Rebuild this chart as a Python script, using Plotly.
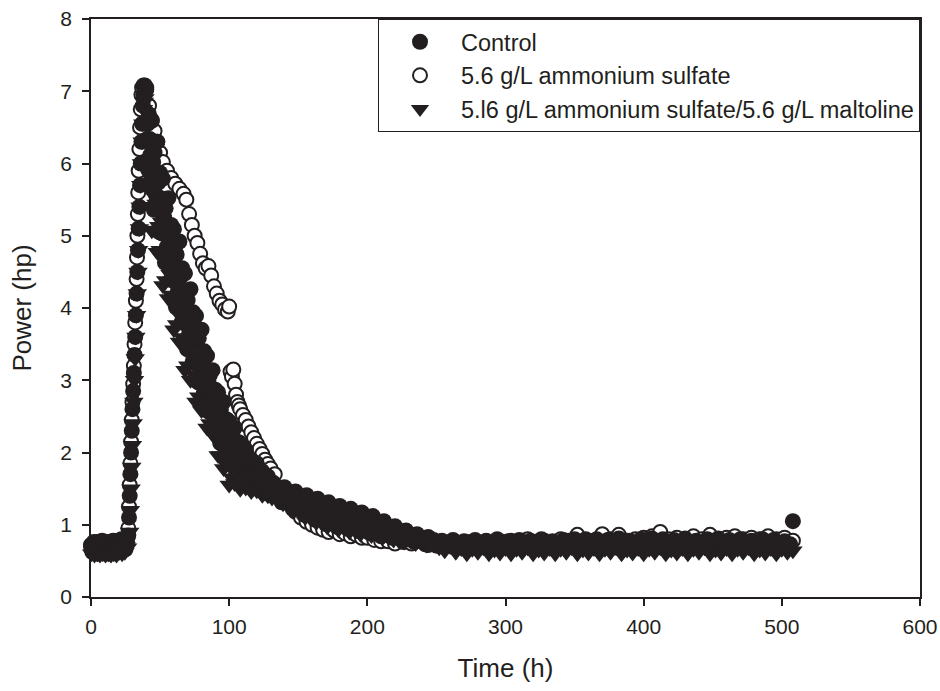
import plotly.graph_objects as go

# ---------------- data ----------------
series_names = ["Control",
                "5.6 g/L ammonium sulfate",
                "5.l6 g/L ammonium sulfate/5.6 g/L maltoline"]

# ---- Control (filled circles) ----
t_ctrl = [0, 1, 2, 3, 4, 5, 6, 7, 8, 9, 10, 11, 12, 13, 14, 15, 16, 17, 18, 19, 20, 21, 22, 23, 24, 25, 26,
          27, 27.5, 28, 28.5, 29, 29.5, 30, 30.5, 31, 31.5, 32, 32.5, 33, 33.5, 34, 34.5, 35, 35.5, 36, 36.5,
          37, 37.5, 38, 38.5, 39,
          40, 41, 42, 43, 44, 45, 46, 47, 48, 49,
          50, 51, 52, 53, 54, 55, 56, 57, 58, 59,
          60, 61, 62, 63, 64, 65, 66, 67, 68, 69,
          70, 71, 72, 73, 74, 75, 76, 77, 78, 79,
          80, 81, 82, 83, 84, 85, 86, 87, 88, 89,
          90, 91, 92, 93, 94, 95, 96, 97, 98, 99,
          100, 101, 102, 103, 104, 105, 106, 107, 108, 109,
          110, 111, 112, 113, 114, 115, 116, 117, 118, 119,
          120, 121, 122, 123, 124, 125, 126, 127, 128, 129,
          130,
          132, 134, 136, 138, 140, 142, 144, 146, 148, 150,
          152, 154, 156, 158, 160, 162, 164, 166, 168, 170,
          172, 174, 176, 178, 180, 182, 184, 186, 188, 190,
          192, 194, 196, 198, 200, 202, 204, 206, 208, 210,
          212, 214, 216, 218, 220, 222, 224, 226, 228, 230,
          232, 234, 236, 238, 240, 242, 244, 246, 248, 250,
          254, 258, 262, 266, 270, 274, 278, 282, 286, 290,
          294, 298, 302, 306, 310, 314, 318, 322, 326, 330,
          334, 338, 342, 346, 350, 354, 358, 362, 366, 370,
          374, 378, 382, 386, 390, 394, 398, 402, 406, 410,
          414, 418, 422, 426, 430, 434, 438, 442, 446, 450,
          454, 458, 462, 466, 470, 474, 478, 482, 486, 490,
          494, 498, 502, 506, 508,
          40.5, 41.5, 42.5, 43.5, 44.5, 45.5, 46.5, 47.5, 48.5, 49.5,
          50.5, 51.5, 52.5, 53.5, 54.5, 55.5, 56.5, 57.5, 58.5, 59.5,
          60.5, 61.5, 62.5, 63.5, 64.5, 65.5, 66.5, 67.5, 68.5, 69.5,
          70.5, 71.5, 72.5, 73.5, 74.5, 75.5, 76.5, 77.5, 78.5, 79.5,
          80.5, 81.5, 82.5, 83.5, 84.5, 85.5, 86.5, 87.5, 88.5, 89.5,
          90.5, 91.5, 92.5, 93.5, 94.5, 95.5, 96.5, 97.5, 98.5, 99.5]
p_ctrl = [0.7, 0.62, 0.76, 0.66, 0.72, 0.6, 0.74, 0.64, 0.78, 0.62, 0.7, 0.66, 0.76, 0.6, 0.72, 0.64,
          0.78, 0.62, 0.74, 0.66, 0.78, 0.64, 0.8, 0.68, 0.76, 0.66, 0.8,
          0.85, 1.1, 1.4, 1.7, 2.0, 2.3, 2.6, 2.85, 3.1, 3.35, 3.6, 3.9, 4.2, 4.5, 4.8, 5.1, 5.4, 5.7, 6.0, 6.3,
          6.55, 6.8, 6.95, 7.05, 7.08,
          7.05, 6.55, 6.68, 6.12, 6.59, 6.02, 6.15, 5.57, 6.30, 5.74,
          5.87, 5.32, 5.79, 5.25, 5.38, 4.85, 5.52, 5.02, 5.15, 4.65,
          5.09, 4.60, 4.74, 4.24, 4.92, 4.43, 4.55, 4.06, 4.48, 3.99,
          4.11, 3.64, 4.26, 3.81, 3.94, 3.50, 3.89, 3.47, 3.58, 3.16,
          3.70, 3.30, 3.40, 3.02, 3.34, 2.98, 3.07, 2.71, 3.14, 2.81,
          2.87, 2.56, 2.83, 2.51, 2.59, 2.25, 2.70, 2.38, 2.46, 2.15,
          2.43, 2.14, 2.23, 1.95, 2.34, 2.08, 2.15, 1.91, 2.13, 1.91,
          1.97, 1.77, 2.04, 1.86, 1.91, 1.74, 1.90, 1.75, 1.80, 1.65,
          1.85, 1.72, 1.76, 1.63, 1.74, 1.63, 1.65, 1.54, 1.67, 1.57,
          1.58,
          1.58, 1.43, 1.49, 1.31, 1.52, 1.35, 1.42, 1.22, 1.46, 1.26,
          1.36, 1.14, 1.41, 1.20, 1.31, 1.07, 1.36, 1.14, 1.25, 1.01,
          1.31, 1.09, 1.20, 0.97, 1.26, 1.05, 1.16, 0.94, 1.22, 1.02,
          1.13, 0.91, 1.17, 0.98, 1.08, 0.88, 1.12, 0.94, 1.03, 0.84,
          1.05, 0.90, 0.96, 0.82, 0.98, 0.85, 0.91, 0.78, 0.92, 0.81,
          0.86, 0.76, 0.87, 0.78, 0.81, 0.73, 0.83, 0.76, 0.79, 0.71,
          0.78, 0.73, 0.79, 0.72, 0.77, 0.74, 0.79, 0.71, 0.78, 0.73,
          0.8, 0.72, 0.77, 0.71, 0.79, 0.73, 0.78, 0.72, 0.8, 0.74,
          0.77, 0.71, 0.79, 0.73, 0.8, 0.72, 0.78, 0.74, 0.8, 0.72,
          0.79, 0.73, 0.81, 0.72, 0.78, 0.74, 0.8, 0.72, 0.81, 0.74,
          0.8, 0.72, 0.79, 0.73, 0.81, 0.72, 0.78, 0.74, 0.8, 0.72,
          0.81, 0.73, 0.79, 0.72, 0.8, 0.74, 0.78, 0.72, 0.8, 0.73,
          0.79, 0.72, 0.77, 0.73, 1.05,
          6.33, 5.91, 6.34, 5.83, 6.29, 5.36, 5.84, 5.49, 5.48, 5.05,
          5.52, 5.03, 5.50, 4.63, 5.09, 4.78, 4.77, 4.39, 4.84, 4.38,
          4.83, 4.01, 4.46, 4.17, 4.17, 3.80, 4.24, 3.79, 4.22, 3.43,
          3.84, 3.57, 3.58, 3.25, 3.66, 3.27, 3.66, 2.97, 3.34, 3.10,
          3.10, 2.81, 3.16, 2.82, 3.15, 2.56, 2.87, 2.67, 2.66, 2.42,
          2.69, 2.40, 2.67, 2.13, 2.41, 2.20, 2.21, 1.96, 2.26, 1.97]

# ---- 5.6 g/L ammonium sulfate (open circles) ----
t_as = [0, 2, 4, 6, 8, 10, 12, 14, 16, 18, 20, 22, 24, 26,
        27, 27.5, 28, 28.5, 29, 29.5, 30, 30.5, 31, 31.5, 32, 32.5, 33, 33.3, 33.6, 33.9, 34.2, 34.5,
        35, 35.5, 36, 36.5, 37, 38,
        40, 42, 44, 46, 48, 50, 52, 55, 58, 61, 64, 67,
        69, 71, 73, 75, 77, 79, 81, 83, 85, 87, 89, 91, 93, 95, 97, 99, 100,
        101, 102, 103, 104, 105, 106, 107, 108, 110, 112, 114, 116, 118, 120, 122, 124, 126, 128, 130, 133,
        136, 140, 144, 148, 152, 156, 160, 164, 168, 172, 176, 180, 184, 188, 192, 196, 200, 205, 210, 215, 220,
        226, 232, 238, 244, 250, 256, 262, 268, 274, 280,
        286, 292, 298, 304, 310, 316, 322, 328, 334, 340,
        346, 352, 358, 364, 370, 376, 382, 388, 394, 400,
        406, 412, 418, 424, 430, 436, 442, 448, 454, 460,
        466, 472, 478, 484, 490, 496, 502, 508]
p_as = [0.72, 0.66, 0.76, 0.7, 0.64, 0.74, 0.68, 0.72, 0.76, 0.66, 0.74, 0.78, 0.7, 0.76,
        0.95, 1.25, 1.55, 1.85, 2.15, 2.45, 2.7, 2.95, 3.2, 3.5, 3.8, 4.1, 4.4, 4.7, 5.0, 5.3, 5.6, 5.9,
        6.2, 6.5, 6.75, 6.95, 7.05, 7.08,
        7.02, 6.8, 6.6, 6.45, 6.3, 6.15, 6.02, 5.9, 5.8, 5.72, 5.65, 5.58,
        5.5, 5.3, 5.15, 5.0, 4.9, 4.75, 4.62, 4.55, 4.58, 4.45, 4.3, 4.2, 4.1, 4.05, 3.98, 3.95, 4.02,
        3.12, 3.05, 3.15, 2.95, 2.8, 2.7, 2.65, 2.6, 2.52, 2.45, 2.36, 2.28, 2.2, 2.12, 2.05, 1.98, 1.9, 1.84, 1.78, 1.7,
        1.5, 1.38, 1.28, 1.18, 1.1, 1.04, 1.0, 0.96, 0.93, 0.9, 0.92, 0.87, 0.88, 0.84, 0.86, 0.82, 0.82, 0.79, 0.77, 0.77, 0.74,
        0.76, 0.74, 0.78, 0.72, 0.76, 0.74, 0.77, 0.73, 0.76, 0.74,
        0.77, 0.74, 0.76, 0.78, 0.74, 0.8, 0.76, 0.78, 0.75, 0.8,
        0.78, 0.86, 0.8, 0.78, 0.87, 0.8, 0.86, 0.78, 0.8, 0.82,
        0.84, 0.9, 0.8, 0.82, 0.78, 0.84, 0.8, 0.86, 0.8, 0.82,
        0.84, 0.8, 0.82, 0.8, 0.84, 0.8, 0.82, 0.78]

# ---- 5.l6 g/L ammonium sulfate / 5.6 g/L maltoline (down triangles) ----
t_malt = [0.5, 1.5, 2.5, 3.5, 4.5, 5.5, 6.5, 7.5, 8.5, 9.5, 10.5, 11.5, 12.5, 13.5, 14.5, 15.5,
          16.5, 17.5, 18.5, 19.5, 20.5, 21.5, 22.5, 23.5, 24.5, 25.5, 26.5,
          28, 28.5, 29, 29.5, 30, 30.5, 31, 31.5, 32, 32.5, 33, 33.5, 34, 34.5, 35, 35.5, 36, 36.5,
          37, 37.5, 38, 38.5, 39,
          40, 41, 42, 43, 44, 45, 46, 47, 48, 49,
          50, 51, 52, 53, 54, 55, 56, 57, 58, 59,
          60, 61, 62, 63, 64, 65, 66, 67, 68, 69,
          70, 71, 72, 73, 74, 75, 76, 77, 78, 79,
          80, 81, 82, 83, 84, 85, 86, 87, 88, 89,
          90, 91, 92, 93, 94, 95, 96, 97, 98, 99,
          100, 101, 102, 103, 104, 105, 106, 107, 108, 109,
          110, 111, 112, 113, 114, 115, 116, 117, 118, 119,
          120, 121, 122, 123, 124, 125, 126, 127, 128, 129,
          130,
          131, 133, 135, 137, 139, 141, 143, 145, 147, 149,
          151, 153, 155, 157, 159, 161, 163, 165, 167, 169,
          171, 173, 175, 177, 179, 181, 183, 185, 187, 189,
          191, 193, 195, 197, 199, 201, 203, 205, 207, 209,
          211, 213, 215, 217, 219, 221, 223, 225, 227, 229,
          231, 233, 235, 237, 239, 241, 243, 245, 247, 249,
          252, 256, 260, 264, 268, 272, 276, 280, 284, 288,
          292, 296, 300, 304, 308, 312, 316, 320, 324, 328,
          332, 336, 340, 344, 348, 352, 356, 360, 364, 368,
          372, 376, 380, 384, 388, 392, 396, 400, 404, 408,
          412, 416, 420, 424, 428, 432, 436, 440, 444, 448,
          452, 456, 460, 464, 468, 472, 476, 480, 484, 488,
          492, 496, 500, 504, 508]
p_malt = [0.6, 0.68, 0.58, 0.64, 0.6, 0.7, 0.58, 0.66, 0.6, 0.68, 0.58, 0.64, 0.6, 0.7, 0.58, 0.66,
          0.6, 0.68, 0.58, 0.64, 0.62, 0.7, 0.6, 0.66, 0.62, 0.7, 0.68,
          0.9, 1.2, 1.5, 1.8, 2.1, 2.4, 2.7, 3.0, 3.3, 3.6, 3.9, 4.2, 4.5, 4.8, 5.1, 5.4, 5.7, 6.0,
          6.3, 6.55, 6.75, 6.85, 6.9,
          5.70, 5.99, 5.64, 5.99, 5.07, 5.41, 5.08, 5.44, 4.77, 5.13,
          4.80, 5.19, 4.31, 4.68, 4.38, 4.73, 4.13, 4.47, 4.18, 4.53,
          3.70, 4.05, 3.77, 4.12, 3.53, 3.88, 3.59, 3.94, 3.14, 3.47,
          3.20, 3.53, 3.00, 3.32, 3.08, 3.40, 2.70, 3.00, 2.77, 3.06,
          2.58, 2.87, 2.66, 2.94, 2.34, 2.59, 2.40, 2.64, 2.25, 2.47,
          2.29, 2.49, 1.96, 2.16, 1.96, 2.17, 1.78, 2.01, 1.83, 2.07,
          1.55, 1.80, 1.65, 1.88, 1.57, 1.78, 1.66, 1.86, 1.49, 1.66,
          1.57, 1.73, 1.51, 1.66, 1.57, 1.71, 1.46, 1.58, 1.51, 1.62,
          1.47, 1.57, 1.50, 1.61, 1.41, 1.50, 1.44, 1.51, 1.40, 1.47,
          1.41,
          1.37, 1.48, 1.39, 1.51, 1.29, 1.40, 1.30, 1.44, 1.19, 1.32,
          1.21, 1.38, 1.10, 1.26, 1.14, 1.33, 1.03, 1.20, 1.08, 1.27,
          0.97, 1.15, 1.03, 1.22, 0.93, 1.10, 0.99, 1.18, 0.90, 1.07,
          0.97, 1.15, 0.87, 1.03, 0.93, 1.10, 0.85, 0.99, 0.90, 1.04,
          0.82, 0.94, 0.86, 0.98, 0.79, 0.89, 0.82, 0.92, 0.76, 0.85,
          0.79, 0.87, 0.74, 0.81, 0.76, 0.82, 0.72, 0.77, 0.74, 0.80,
          0.68, 0.64, 0.7, 0.62, 0.67, 0.6, 0.66, 0.62, 0.68, 0.6,
          0.65, 0.61, 0.67, 0.6, 0.66, 0.62, 0.68, 0.6, 0.65, 0.61,
          0.67, 0.6, 0.66, 0.62, 0.68, 0.6, 0.65, 0.61, 0.67, 0.6,
          0.66, 0.62, 0.68, 0.6, 0.65, 0.61, 0.67, 0.6, 0.66, 0.62,
          0.68, 0.6, 0.65, 0.61, 0.67, 0.6, 0.66, 0.62, 0.68, 0.6,
          0.65, 0.61, 0.67, 0.6, 0.66, 0.62, 0.68, 0.6, 0.65, 0.61,
          0.67, 0.6, 0.66, 0.62, 0.64]

x_ticks = [0, 100, 200, 300, 400, 500, 600]
y_ticks = [0, 1, 2, 3, 4, 5, 6, 7, 8]

for a, b, n in [(t_ctrl, p_ctrl, "ctrl"), (t_as, p_as, "as"), (t_malt, p_malt, "malt")]:
    if len(a) != len(b):
        raise ValueError(f"{n}: {len(a)} times vs {len(b)} values")

# ---------------- figure ----------------
BLACK = "#231f20"
FONT = "Liberation Sans, Arial, Helvetica, sans-serif"

fig = go.Figure()
# open circles drawn first (underneath); legend order fixed with legendrank
fig.add_trace(go.Scatter(
    x=t_as, y=p_as, mode="markers", name=series_names[1], legendrank=2,
    cliponaxis=False,
    marker=dict(symbol="circle", size=14, color="white",
                line=dict(color=BLACK, width=2))))
fig.add_trace(go.Scatter(
    x=t_ctrl, y=p_ctrl, mode="markers", name=series_names[0], legendrank=1,
    cliponaxis=False,
    marker=dict(symbol="circle", size=16, color=BLACK,
                line=dict(color=BLACK, width=0))))
fig.add_trace(go.Scatter(
    x=t_malt, y=p_malt, mode="markers", name=series_names[2], legendrank=3,
    cliponaxis=False,
    marker=dict(symbol="triangle-down", size=17, color=BLACK,
                line=dict(color=BLACK, width=0))))

axis_common = dict(
    showline=True, linecolor=BLACK, linewidth=1.5, mirror=True,
    ticks="outside", ticklen=7, tickwidth=1.5, tickcolor=BLACK,
    showgrid=False, zeroline=False, automargin=False,
    tickfont=dict(family=FONT, size=21, color=BLACK),
)

fig.update_layout(
    template="none",
    width=940, height=691,
    margin=dict(l=91, r=20, t=19, b=94),
    paper_bgcolor="white", plot_bgcolor="white",
    font=dict(family=FONT, color=BLACK),
    showlegend=True,
    legend=dict(
        x=1, xanchor="right", y=1, yanchor="top",
        bgcolor="white", bordercolor=BLACK, borderwidth=1,
        font=dict(family=FONT, size=23.5, color=BLACK),
        itemwidth=72, tracegroupgap=0,
    ),
    xaxis=dict(range=[0, 600], tickvals=x_ticks, ticklabelstandoff=3,
               title=dict(text="Time (h)", standoff=22,
                          font=dict(family=FONT, size=26, color=BLACK)),
               **axis_common),
    yaxis=dict(range=[0, 8], tickvals=y_ticks, ticklabelstandoff=6,
               title=dict(text="Power (hp)", standoff=21,
                          font=dict(family=FONT, size=26, color=BLACK)),
               **axis_common),
)

fig.write_html("out.html")
